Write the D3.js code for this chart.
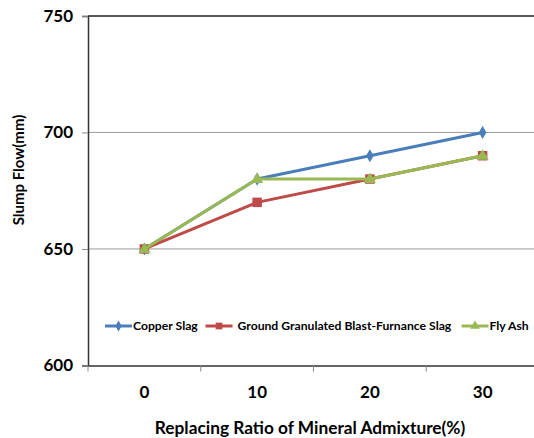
<!DOCTYPE html>
<html><head><meta charset="utf-8">
<script src="https://cdn.jsdelivr.net/npm/d3@7"></script>
<style>body{margin:0;background:#fff;}svg{display:block;font-family:Lato,"Open Sans",sans-serif;font-weight:bold;}</style>
</head><body>
<svg id="c" width="534" height="438"></svg>
<script>
const categories = ["0", "10", "20", "30"];
const seriesNames = ["Copper Slag", "Ground Granulated Blast-Furnance Slag", "Fly Ash"];
const copperSlag = [650, 680, 690, 700];
const ggbs = [650, 670, 680, 690];
const flyAsh = [650, 680, 680, 690];
const yTicks = [600, 650, 700, 750];
const colors = ["#4A7EBB", "#BE4B48", "#98B954"];
const symbols = [d3.symbolDiamond, d3.symbolSquare, d3.symbolTriangle];
const seriesData = [copperSlag, ggbs, flyAsh];

const svg = d3.select("#c");
const L = 88, R = 539, T = 15.9, B = 365.5;
const x = d3.scaleBand().domain(categories).range([L, R]);
const y = d3.scaleLinear().domain([600, 750]).range([B, T]);

// gridlines
svg.append("g").selectAll("line").data(yTicks.slice(1, 3)).join("line")
  .attr("x1", L).attr("x2", 534).attr("y1", d => y(d)).attr("y2", d => y(d))
  .attr("stroke", "#9a9a9a").attr("stroke-width", 1);
// top border
svg.append("line").attr("x1", L).attr("x2", 534).attr("y1", y(750)).attr("y2", y(750))
  .attr("stroke", "#222").attr("stroke-width", 1.5);

// y axis
const ya = svg.append("g").attr("transform", `translate(${L},0)`)
  .call(d3.axisLeft(y).tickValues(yTicks).tickSize(6).tickPadding(9));
ya.select(".domain").attr("stroke", "#333").attr("stroke-width", 1.5);
ya.selectAll(".tick line").attr("stroke", "#888");
ya.selectAll("text").attr("font-size", 17).attr("font-weight", "bold").attr("fill", "#000")
  .attr("font-family", "Lato");

// x axis
const xa = svg.append("g").attr("transform", `translate(0,${B})`)
  .call(d3.axisBottom(x).tickSize(0).tickPadding(20));
xa.select(".domain").attr("stroke", "#333").attr("stroke-width", 1.5);
xa.selectAll("text").attr("font-size", 17).attr("font-weight", "bold").attr("fill", "#000")
  .attr("font-family", "Lato");
// category boundary ticks
const bounds = categories.map(c => x(c));
svg.append("g").selectAll("line").data(bounds).join("line")
  .attr("x1", d => d).attr("x2", d => d).attr("y1", B).attr("y2", B + 6)
  .attr("stroke", "#888").attr("stroke-width", 1);

// series
const line = d3.line().x((d, i) => x(categories[i]) + x.bandwidth() / 2).y(d => y(d));
seriesData.forEach((s, k) => {
  svg.append("path").datum(s).attr("d", line).attr("fill", "none")
    .attr("stroke", colors[k]).attr("stroke-width", 3).attr("stroke-linejoin", "round");
  const sz = [50, 90, 65][k];
  svg.append("g").selectAll("path").data(s).join("path")
    .attr("transform", (d, i) => `translate(${x(categories[i]) + x.bandwidth() / 2},${y(d) + (k === 2 ? 0.5 : 0)})`)
    .attr("d", d3.symbol().type(symbols[k]).size(sz)).attr("fill", colors[k]);
});

// legend
const legX = [105, 205.5, 461.5];
const legY = 326;
seriesNames.forEach((n, k) => {
  const g = svg.append("g");
  g.append("line").attr("x1", legX[k]).attr("x2", legX[k] + 27).attr("y1", legY).attr("y2", legY)
    .attr("stroke", colors[k]).attr("stroke-width", 3);
  g.append("path").attr("transform", `translate(${legX[k] + 13.5},${legY})`)
    .attr("d", d3.symbol().type(symbols[k]).size([35, 45, 40][k])).attr("fill", colors[k]);
  g.append("text").attr("x", legX[k] + 28 + (k === 1 ? 4 : 0)).attr("y", legY + 4)
    .attr("font-size", 12.2).attr("fill", "#000").text(n);
});

// axis titles
svg.append("text").attr("x", 310).attr("y", 434).attr("text-anchor", "middle")
  .attr("font-size", 17.3).attr("fill", "#000").text("Replacing Ratio of Mineral Admixture(%)");
svg.append("text").attr("transform", "translate(24,170) rotate(-90)").attr("text-anchor", "middle")
  .attr("font-size", 15).attr("fill", "#000").text("Slump Flow(mm)");
</script>
</body></html>
